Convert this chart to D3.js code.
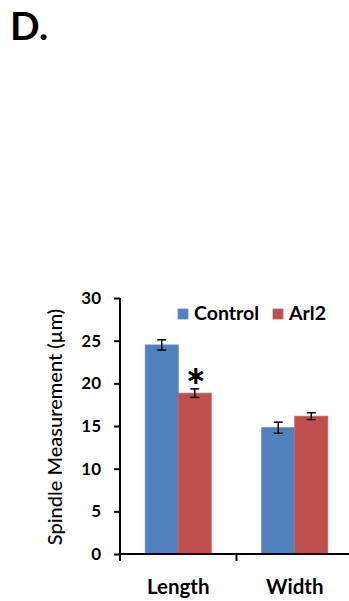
<!DOCTYPE html>
<html>
<head>
<meta charset="utf-8">
<script src="https://cdn.jsdelivr.net/npm/d3@7"></script>
<style>
  html, body { margin: 0; padding: 0; background: #fff; }
  svg { display: block; }
  text { font-family: Lato, "Open Sans", sans-serif; fill: #000; }
</style>
</head>
<body>
<svg id="chart" width="349" height="601"></svg>
<script>
const categories = ["Length", "Width"];
const seriesNames = ["Control", "Arl2"];
const controlValues = [24.5, 14.8];
const controlErrors = [0.6, 0.65];
const arl2Values = [18.85, 16.15];
const arl2Errors = [0.5, 0.4];
const yTicks = [0, 5, 10, 15, 20, 25, 30];
const significant = [true, false]; // asterisk over Arl2 bar
const colors = { Control: "#4F81BD", Arl2: "#C0504D" };
const strokeColors = { Control: "#5B8DCB", Arl2: "#CC5F5C" };

const data = categories.map((c, i) => ({
  category: c,
  values: [
    { series: "Control", value: controlValues[i], err: controlErrors[i] },
    { series: "Arl2", value: arl2Values[i], err: arl2Errors[i], star: significant[i] }
  ]
}));

const svg = d3.select("#chart");

// Panel label
svg.append("text").attr("x", 10).attr("y", 40)
  .attr("font-size", 39).attr("font-weight", 700).text("D.");

const y = d3.scaleLinear().domain([0, 30]).range([554, 298]);
const x = d3.scaleBand().domain(categories).range([120, 353]).padding(0);
const groupW = x.bandwidth() * 0.567;
const xs = d3.scaleBand().domain(seriesNames).range([0, groupW]).padding(0);

// Bars
const g = svg.append("g");
const groups = g.selectAll("g.grp").data(data).join("g")
  .attr("transform", d => `translate(${x(d.category) + (x.bandwidth() - groupW) / 2},0)`);

groups.selectAll("rect").data(d => d.values).join("rect")
  .attr("x", d => xs(d.series))
  .attr("y", d => y(d.value))
  .attr("width", xs.bandwidth())
  .attr("height", d => y(0) - y(d.value))
  .attr("fill", d => colors[d.series])
  .attr("stroke", d => strokeColors[d.series])
  .attr("stroke-width", 0.8);

// Error bars
const eb = groups.selectAll("g.eb").data(d => d.values).join("g")
  .attr("stroke", "#000").attr("stroke-width", 1.5);
eb.append("line")
  .attr("x1", d => xs(d.series) + xs.bandwidth() / 2)
  .attr("x2", d => xs(d.series) + xs.bandwidth() / 2)
  .attr("y1", d => y(d.value + d.err))
  .attr("y2", d => y(d.value - d.err));
eb.append("line")
  .attr("x1", d => xs(d.series) + xs.bandwidth() / 2 - 4.5)
  .attr("x2", d => xs(d.series) + xs.bandwidth() / 2 + 4.5)
  .attr("y1", d => y(d.value + d.err))
  .attr("y2", d => y(d.value + d.err));
eb.append("line")
  .attr("x1", d => xs(d.series) + xs.bandwidth() / 2 - 4.5)
  .attr("x2", d => xs(d.series) + xs.bandwidth() / 2 + 4.5)
  .attr("y1", d => y(d.value - d.err))
  .attr("y2", d => y(d.value - d.err));

// Asterisk
groups.selectAll("text.star").data(d => d.values.filter(v => v.star)).join("text")
  .attr("class", "star")
  .attr("x", d => xs(d.series) + xs.bandwidth() / 2 + 1)
  .attr("y", d => y(d.value + d.err) + 14)
  .attr("text-anchor", "middle")
  .attr("font-size", 46).attr("font-weight", 900)
  .text("*");

// Y axis
const yAxis = d3.axisLeft(y).tickValues(yTicks).tickSize(6).tickPadding(13).tickSizeOuter(0);
const ya = svg.append("g").attr("transform", "translate(120,0)").call(yAxis);
ya.select(".domain").attr("stroke", "#000").attr("stroke-width", 2);
ya.selectAll(".tick line").attr("stroke", "#000").attr("stroke-width", 2);
ya.selectAll(".tick text").attr("font-size", 17).attr("font-weight", 700)
  .attr("font-family", "Lato, sans-serif").attr("fill", "#000");
ya.select(".domain").attr("d", `M0,${y(0)}V${y(30)}`);

// X axis
const xa = svg.append("g");
xa.append("line").attr("x1", 119).attr("x2", 353).attr("y1", y(0)).attr("y2", y(0))
  .attr("stroke", "#000").attr("stroke-width", 2);
const boundaries = categories.map(c => x(c)).concat([x.range()[1]]);
xa.selectAll("line.t").data(boundaries).join("line").attr("class", "t")
  .attr("x1", d => d).attr("x2", d => d)
  .attr("y1", y(0)).attr("y2", y(0) + 7)
  .attr("stroke", "#000").attr("stroke-width", 2);
xa.selectAll("text").data(categories).join("text")
  .attr("x", d => x(d) + x.bandwidth() / 2)
  .attr("y", 594)
  .attr("text-anchor", "middle")
  .attr("font-size", 20.5).attr("font-weight", 700)
  .text(d => d);

// Y axis title
svg.append("text")
  .attr("transform", `translate(62,${(298 + 554) / 2 + 1}) rotate(-90)`)
  .attr("text-anchor", "middle")
  .attr("font-size", 20).attr("font-weight", 500)
  .text("Spindle Measurement (µm)");

// Legend
const legendPos = [{ sx: 178, tx: 194 }, { sx: 273, tx: 289 }];
const lg = svg.append("g").selectAll("g").data(seriesNames).join("g");
lg.append("rect")
  .attr("x", (d, i) => legendPos[i].sx).attr("y", 309)
  .attr("width", 10).attr("height", 10)
  .attr("fill", d => colors[d]).attr("stroke", d => strokeColors[d]).attr("stroke-width", 0.8);
lg.append("text")
  .attr("x", (d, i) => legendPos[i].tx).attr("y", 320)
  .attr("font-size", 19.5).attr("font-weight", 700)
  .text(d => d);
</script>
</body>
</html>
